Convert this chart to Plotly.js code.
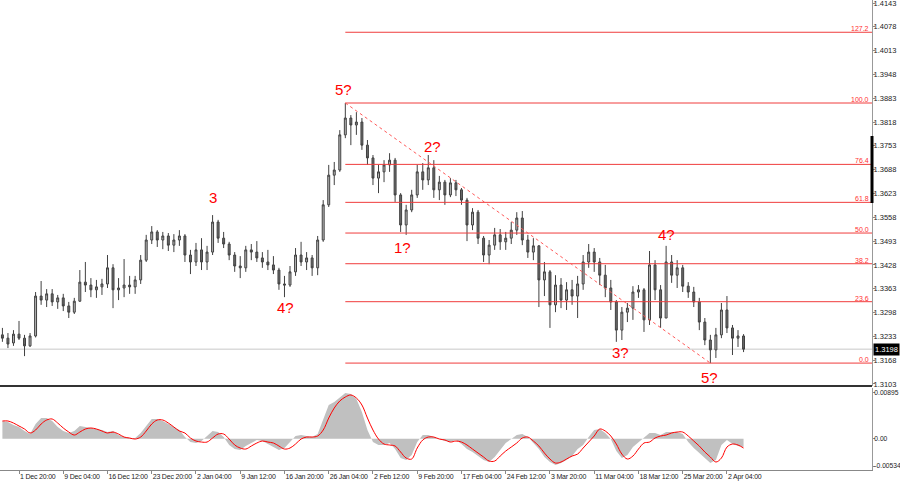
<!DOCTYPE html>
<html><head><meta charset="utf-8">
<script src="https://cdn.plot.ly/plotly-3.0.1.min.js"></script>
<style>html,body{margin:0;padding:0;background:#fff}#chart{width:900px;height:485px}
#chart .xtick text{letter-spacing:-0.2px}</style>
</head><body><div id="chart"></div>
<script>
// ---- candle data (H4 chart, one candle per 4 bars) ----
const open = [1.3237,1.3228,1.3215,1.3239,1.3228,1.3207,1.3234,1.3343,1.3332,1.3349,
1.3327,1.3338,1.3316,1.3299,1.3329,1.3381,1.3373,1.3360,1.3368,1.3376,
1.3420,1.3360,1.3365,1.3373,1.3368,1.3387,1.3441,1.3496,1.3518,1.3496,
1.3507,1.3482,1.3496,1.3507,1.3455,1.3436,1.3469,1.3436,1.3463,1.3545,
1.3501,1.3485,1.3455,1.3425,1.3420,1.3469,1.3463,1.3447,1.3436,1.3428,
1.3414,1.3376,1.3373,1.3409,1.3455,1.3436,1.3447,1.3420,1.3496,1.3592,
1.3673,1.3687,1.3783,1.3829,1.3810,1.3818,1.3755,1.3720,1.3665,1.3682,
1.3701,1.3714,1.3619,1.3537,1.3578,1.3619,1.3682,1.3660,1.3693,1.3633,
1.3654,1.3619,1.3652,1.3633,1.3605,1.3537,1.3572,1.3501,1.3455,1.3482,
1.3510,1.3491,1.3501,1.3523,1.3556,1.3496,1.3463,1.3480,1.3387,1.3409,
1.3319,1.3373,1.3332,1.3360,1.3343,1.3376,1.3436,1.3463,1.3436,1.3400,
1.3365,1.3327,1.3250,1.3299,1.3310,1.3354,1.3360,1.3278,1.3428,1.3360,
1.3283,1.3436,1.3400,1.3420,1.3370,1.3354,1.3327,1.3272,1.3223,1.3196,
1.3237,1.3305,1.3256,1.3228,1.3234];
const high = [1.3256,1.3242,1.3250,1.3275,1.3237,1.3242,1.3354,1.3384,1.3362,1.3362,
1.3346,1.3349,1.3327,1.3338,1.3414,1.3436,1.3392,1.3387,1.3390,1.3455,
1.3430,1.3392,1.3444,1.3398,1.3398,1.3455,1.3510,1.3534,1.3523,1.3518,
1.3515,1.3512,1.3523,1.3512,1.3469,1.3488,1.3501,1.3480,1.3564,1.3551,
1.3518,1.3491,1.3463,1.3452,1.3480,1.3485,1.3493,1.3463,1.3469,1.3452,
1.3420,1.3398,1.3425,1.3474,1.3491,1.3463,1.3455,1.3507,1.3605,1.3701,
1.3709,1.3796,1.3870,1.3837,1.3845,1.3829,1.3769,1.3728,1.3701,1.3714,
1.3733,1.3720,1.3624,1.3592,1.3633,1.3701,1.3706,1.3728,1.3714,1.3671,
1.3660,1.3665,1.3660,1.3638,1.3611,1.3583,1.3578,1.3507,1.3496,1.3529,
1.3526,1.3518,1.3545,1.3572,1.3575,1.3510,1.3501,1.3482,1.3436,1.3414,
1.3400,1.3392,1.3381,1.3387,1.3398,1.3455,1.3485,1.3474,1.3447,1.3428,
1.3387,1.3332,1.3313,1.3324,1.3370,1.3373,1.3365,1.3466,1.3441,1.3373,
1.3480,1.3455,1.3441,1.3428,1.3381,1.3368,1.3338,1.3283,1.3237,1.3256,
1.3324,1.3343,1.3264,1.3250,1.3239];
const low = [1.3218,1.3201,1.3207,1.3223,1.3179,1.3204,1.3230,1.3319,1.3313,1.3316,
1.3308,1.3302,1.3283,1.3294,1.3327,1.3354,1.3340,1.3338,1.3346,1.3365,
1.3310,1.3332,1.3340,1.3349,1.3349,1.3376,1.3436,1.3485,1.3477,1.3471,
1.3466,1.3463,1.3480,1.3436,1.3403,1.3425,1.3414,1.3414,1.3455,1.3488,
1.3474,1.3441,1.3409,1.3392,1.3409,1.3441,1.3436,1.3420,1.3414,1.3403,
1.3360,1.3340,1.3368,1.3398,1.3425,1.3414,1.3398,1.3400,1.3491,1.3586,
1.3646,1.3682,1.3774,1.3755,1.3783,1.3742,1.3701,1.3646,1.3624,1.3654,
1.3682,1.3600,1.3518,1.3510,1.3572,1.3611,1.3633,1.3646,1.3611,1.3605,
1.3592,1.3613,1.3616,1.3592,1.3493,1.3523,1.3485,1.3436,1.3430,1.3469,
1.3469,1.3469,1.3485,1.3510,1.3482,1.3447,1.3441,1.3313,1.3343,1.3256,
1.3299,1.3310,1.3305,1.3319,1.3283,1.3360,1.3420,1.3409,1.3373,1.3340,
1.3305,1.3218,1.3223,1.3272,1.3278,1.3338,1.3245,1.3264,1.3332,1.3256,
1.3283,1.3379,1.3365,1.3354,1.3338,1.3313,1.3250,1.3209,1.3160,1.3174,
1.3228,1.3242,1.3182,1.3204,1.3190];
const close = [1.3228,1.3212,1.3239,1.3228,1.3207,1.3234,1.3343,1.3332,1.3349,1.3327,
1.3338,1.3316,1.3299,1.3329,1.3381,1.3373,1.3360,1.3368,1.3376,1.3420,
1.3360,1.3365,1.3373,1.3368,1.3387,1.3441,1.3496,1.3518,1.3496,1.3507,
1.3482,1.3496,1.3507,1.3455,1.3436,1.3469,1.3436,1.3463,1.3545,1.3501,
1.3485,1.3455,1.3425,1.3420,1.3469,1.3463,1.3447,1.3436,1.3428,1.3414,
1.3376,1.3373,1.3409,1.3455,1.3436,1.3447,1.3420,1.3496,1.3592,1.3673,
1.3687,1.3783,1.3829,1.3810,1.3818,1.3755,1.3720,1.3665,1.3682,1.3701,
1.3714,1.3619,1.3537,1.3578,1.3619,1.3682,1.3660,1.3693,1.3633,1.3654,
1.3619,1.3652,1.3633,1.3605,1.3537,1.3572,1.3501,1.3455,1.3482,1.3510,
1.3491,1.3501,1.3523,1.3556,1.3496,1.3463,1.3480,1.3387,1.3409,1.3319,
1.3373,1.3332,1.3360,1.3343,1.3376,1.3436,1.3463,1.3436,1.3400,1.3365,
1.3327,1.3250,1.3299,1.3310,1.3354,1.3360,1.3278,1.3428,1.3360,1.3283,
1.3436,1.3400,1.3420,1.3370,1.3354,1.3327,1.3272,1.3223,1.3196,1.3237,
1.3305,1.3256,1.3228,1.3234,1.3198];

// ---- oscillator (MACD histogram + signal) ----
const macd = [0.00347,0.00327,0.00268,0.00229,0.00151,0.00092,0.00288,0.00405,0.00405,0.00347,
0.00229,0.00151,0.00112,0.00151,0.00249,0.00229,0.00210,0.00190,0.00170,0.00131,
0.00151,0.00072,0.00033,0.00014,0.00014,0.00112,0.00249,0.00386,0.00386,0.00347,
0.00288,0.00229,0.00170,0.00033,-0.00065,-0.00084,-0.00045,0.00053,0.00151,0.00131,
0.00033,-0.00123,-0.00202,-0.00221,-0.00143,-0.00084,-0.00025,-0.00045,-0.00104,-0.00163,
-0.00221,-0.00182,-0.00065,0.00053,0.00072,0.00053,0.00033,0.00092,0.00366,0.00660,
0.00719,0.00816,0.00895,0.00875,0.00777,0.00523,0.00170,-0.00065,-0.00123,-0.00123,
-0.00084,-0.00202,-0.00378,-0.00417,-0.00319,-0.00065,0.00072,0.00072,0.00033,-0.00006,
-0.00045,-0.00065,-0.00025,-0.00104,-0.00202,-0.00260,-0.00339,-0.00417,-0.00456,-0.00358,
-0.00221,-0.00084,-0.00006,0.00072,0.00092,0.00033,-0.00084,-0.00202,-0.00358,-0.00456,
-0.00515,-0.00476,-0.00417,-0.00339,-0.00202,-0.00123,0.00033,0.00170,0.00190,0.00112,
-0.00006,-0.00241,-0.00378,-0.00319,-0.00163,-0.00065,0.00014,0.00112,0.00112,0.00072,
0.00131,0.00131,0.00131,0.00092,-0.00065,-0.00182,-0.00280,-0.00397,-0.00476,-0.00417,
-0.00123,-0.00025,-0.00104,-0.00143,-0.00163];
const signal = [0.00347,0.00347,0.00307,0.00249,0.00190,0.00112,0.00170,0.00288,0.00366,0.00386,
0.00307,0.00210,0.00131,0.00072,0.00131,0.00190,0.00210,0.00190,0.00151,0.00112,
0.00131,0.00092,0.00033,0.00014,-0.00006,0.00033,0.00151,0.00288,0.00366,0.00366,
0.00307,0.00229,0.00151,0.00112,0.00014,-0.00045,-0.00065,-0.00065,0.00014,0.00092,
0.00092,-0.00006,-0.00123,-0.00182,-0.00202,-0.00143,-0.00084,-0.00045,-0.00065,-0.00084,
-0.00143,-0.00202,-0.00182,-0.00104,-0.00006,0.00033,0.00033,0.00053,0.00170,0.00405,
0.00601,0.00738,0.00816,0.00856,0.00797,0.00660,0.00405,0.00170,-0.00006,-0.00104,
-0.00123,-0.00143,-0.00260,-0.00378,-0.00397,-0.00182,-0.00025,0.00033,0.00033,-0.00006,
-0.00025,-0.00065,-0.00045,-0.00065,-0.00123,-0.00202,-0.00280,-0.00358,-0.00437,-0.00437,
-0.00339,-0.00241,-0.00163,-0.00084,0.00014,0.00033,-0.00045,-0.00143,-0.00280,-0.00397,
-0.00476,-0.00456,-0.00397,-0.00339,-0.00300,-0.00182,-0.00065,0.00053,0.00190,0.00151,
0.00053,-0.00104,-0.00300,-0.00397,-0.00339,-0.00202,-0.00084,-0.00065,0.00014,0.00053,
0.00072,0.00112,0.00131,0.00131,0.00053,-0.00045,-0.00143,-0.00260,-0.00358,-0.00456,
-0.00378,-0.00163,-0.00104,-0.00123,-0.00182];

// ---- axis ticks ----
const dateTickBars = [0,32,64,96,128,160,192,224,256,288,320,352,384,416,448,480,512];
const dateTickLabels = ["1 Dec 20:00","9 Dec 04:00","16 Dec 12:00","23 Dec 20:00","2 Jan 04:00","9 Jan 12:00",
"16 Jan 20:00","26 Jan 04:00","2 Feb 12:00","9 Feb 20:00","17 Feb 04:00","24 Feb 12:00","3 Mar 20:00",
"11 Mar 04:00","18 Mar 12:00","25 Mar 20:00","2 Apr 04:00"];
const priceTicks = [1.4143,1.4078,1.4013,1.3948,1.3883,1.3818,1.3753,1.3688,1.3623,1.3558,1.3493,1.3428,1.3363,1.3298,1.3233,1.3168,1.3103];
const oscTicks = [0.00895,0,-0.00534];
const oscTickLabels = ["0.00895","0.00","-0.00534"];

// ---- Fibonacci & wave labels ----
const fibRatios = [0,0.236,0.382,0.5,0.618,0.764,1,1.272];
const fibLabels = ["0.0","23.6","38.2","50.0","61.8","76.4","100.0","127.2"];
const waveText = ["3","4?","5?","2?","1?","4?","3?","5?"];
const waveCandle = [38,51,62,77,73,120,111,128];
const waveAtHigh = [true,false,true,true,false,true,false,false];

// bar position of each candle (first candle 12 bars before the "1 Dec 20:00" tick, 4 bars apart)
const xs = close.map((_, k) => -12 + 4 * k);

const xRange = [-13.74, 616.9];
const FONT = "Liberation Sans, Arial, sans-serif";

let peakIdx = 0;
high.forEach((v, k) => { if (v > high[peakIdx]) peakIdx = k; });
let troughIdx = peakIdx;
for (let k = peakIdx; k < low.length; k++) if (low[k] < low[troughIdx]) troughIdx = k;
const fHi = high[peakIdx], fLo = low[troughIdx];
const fibPrices = fibRatios.map(r => fLo + r * (fHi - fLo));
const last = close[close.length - 1];

const traces = [
  {type:"candlestick", x:xs, open:open, high:high, low:low, close:close, xaxis:"x", yaxis:"y",
   increasing:{line:{color:"#404040",width:1}, fillcolor:"#b8b8b8"},
   decreasing:{line:{color:"#404040",width:1}, fillcolor:"#6a6a6a"},
   whiskerwidth:0, hoverinfo:"skip"},
  {type:"scatter", mode:"lines", x:xs, y:macd, xaxis:"x", yaxis:"y2", fill:"tozeroy",
   fillcolor:"#c0c0c0", line:{width:0, color:"#c0c0c0"}, hoverinfo:"skip"},
  {type:"scatter", mode:"lines", x:xs, y:signal, xaxis:"x", yaxis:"y2",
   line:{color:"#ff0000", width:1, shape:"spline"}, hoverinfo:"skip"}
];

const shapes = [];
shapes.push({type:"line", xref:"paper", yref:"y", x0:0, x1:1, y0:last, y1:last, layer:"below",
  line:{color:"#c8c8c8", width:1}});
fibPrices.forEach(p => shapes.push({type:"line", xref:"x", yref:"y", x0:xs[peakIdx], x1:xRange[1], y0:p, y1:p,
  line:{color:"#f03c3c", width:1}}));
shapes.push({type:"line", xref:"x", yref:"y", x0:xs[peakIdx], y0:fHi, x1:xs[troughIdx], y1:fLo,
  line:{color:"#ff5a5a", width:1, dash:"dot"}});
shapes.push({type:"line", xref:"paper", yref:"paper", x0:0, x1:1, y0:0.1787, y1:0.1787,
  line:{color:"#333", width:2}});
shapes.push({type:"line", xref:"paper", yref:"paper", x0:1, x1:1, y0:0.5681, y1:0.7106,
  line:{color:"#000", width:3}});

const annotations = [];
fibPrices.forEach((p, i) => annotations.push({xref:"paper", yref:"y", x:1, y:p, xanchor:"right", yanchor:"bottom",
  xshift:-1, yshift:-2, text:fibLabels[i], showarrow:false, font:{family:FONT, size:7, color:"#ff3030"}}));
const waveShift = [[0,18],[1,-10],[-2,14],[4,9],[-4,-13],[0,11],[4,-11],[-1,-14]];
waveText.forEach((t, i) => {
  const k = waveCandle[i];
  annotations.push({xref:"x", yref:"y", x:xs[k], y: waveAtHigh[i] ? high[k] : low[k],
    xanchor:"center", yanchor:"middle", xshift:waveShift[i][0], yshift:waveShift[i][1],
    text:t, showarrow:false, font:{family:FONT, size:15, color:"#ff0000"}});
});
annotations.push({xref:"paper", yref:"y", x:1, y:last, xanchor:"left", yanchor:"middle", xshift:1,
  text:last.toFixed(4), showarrow:false, bgcolor:"#000", borderpad:1,
  font:{family:FONT, size:7.5, color:"#fff"}});

const axFont = {family:FONT, size:7.5, color:"#222"};
const layout = {
  width:900, height:485, margin:{l:0, r:28, t:0, b:15},
  paper_bgcolor:"#fff", plot_bgcolor:"#fff", showlegend:false, boxgap:0.5,
  xaxis:{range:xRange, anchor:"y2", tickvals:dateTickBars, ticktext:dateTickLabels, tickangle:0,
    ticklabelposition:"outside right", ticks:"outside", ticklen:3, tickcolor:"#888",
    ticklabelstandoff:0, ticklabeloverflow:"allow",
    tickfont:{family:FONT, size:7, color:"#222"}, showgrid:false, zeroline:false, showline:true,
    linecolor:"#888", linewidth:1, rangeslider:{visible:false}, fixedrange:true},
  yaxis:{domain:[0.1787,1], range:[1.30974,1.41512], side:"right", tickvals:priceTicks,
    ticktext:priceTicks.map(v => v.toFixed(4)), ticks:"outside", ticklen:2, tickcolor:"#888",
    ticklabeloverflow:"allow", ticklabelstandoff:-3,
    tickfont:axFont, showgrid:false, zeroline:false, showline:true, linecolor:"#999", linewidth:1},
  yaxis2:{domain:[0,0.1745], range:[-0.00612,0.00993], side:"right", tickvals:oscTicks,
    ticktext:oscTickLabels, ticks:"outside", ticklen:2, tickcolor:"#888",
    ticklabeloverflow:"allow", ticklabelstandoff:-2,
    tickfont:{family:FONT, size:6.7, color:"#222"},
    showgrid:false, zeroline:false, showline:true, linecolor:"#999", linewidth:1},
  shapes:shapes, annotations:annotations
};
Plotly.newPlot("chart", traces, layout, {staticPlot:true, displayModeBar:false});
</script></body></html>
